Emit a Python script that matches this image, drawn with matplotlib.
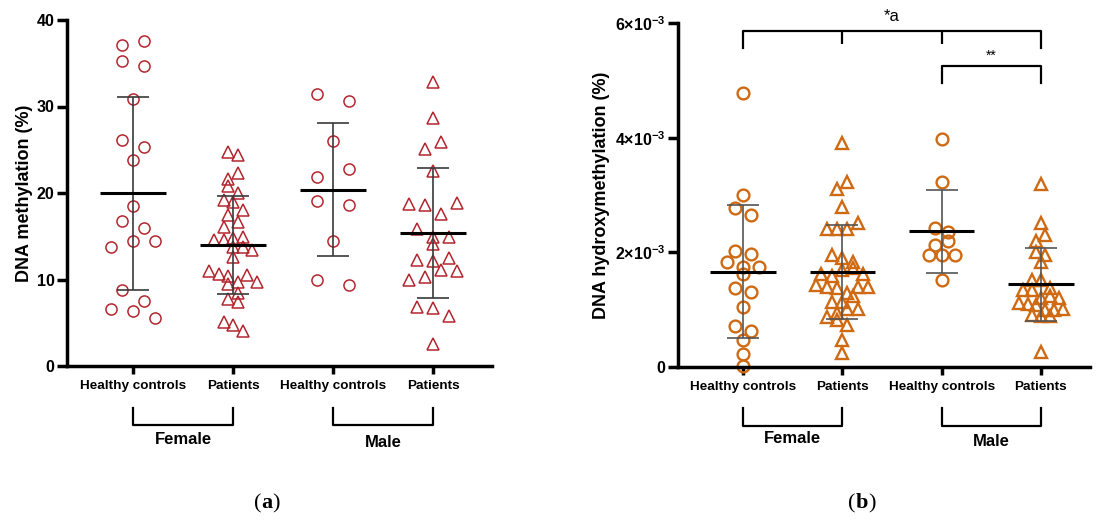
import numpy as np
import matplotlib
matplotlib.use('Agg')
import matplotlib.pyplot as plt
from matplotlib.offsetbox import TextArea, HPacker, AnnotationBbox

plt.rcParams['font.family'] = 'Liberation Sans'
plt.rcParams['font.weight'] = 'bold'
plt.rcParams['axes.labelweight'] = 'bold'
plt.rcParams['mathtext.fontset'] = 'custom'
plt.rcParams['mathtext.rm'] = 'Liberation Sans:bold'
plt.rcParams['mathtext.bf'] = 'Liberation Sans:bold'

groups = ['Healthy controls', 'Patients', 'Healthy controls', 'Patients']
sexes = ['Female', 'Male']

# (a) DNA methylation (%)
meth_female_controls = [37.1, 37.6, 35.3, 34.7, 30.9, 26.1, 25.3, 23.8, 18.5, 16.8, 15.9,
                        13.8, 14.5, 14.4, 8.8, 7.5, 6.6, 6.4, 5.5]
meth_female_patients = [24.7, 24.4, 21.6, 22.3, 20.8, 20.0, 19.2, 19.0, 18.0, 17.5, 16.7,
                        16.1, 14.6, 14.8, 14.9, 14.6, 13.7, 13.7, 13.4, 12.6, 11.0, 10.6,
                        10.4, 9.7, 10.5, 9.7, 9.5, 8.4, 7.8, 7.4, 5.1, 4.7, 4.1]
meth_male_controls = [31.4, 30.6, 26.0, 21.8, 22.8, 19.1, 18.6, 14.4, 9.9, 9.4]
meth_male_patients = [32.8, 28.7, 25.1, 25.9, 22.6, 18.7, 18.6, 17.6, 18.9, 15.8, 14.9,
                      14.1, 14.9, 12.2, 12.1, 12.5, 9.9, 10.3, 11.1, 11.0, 6.8, 6.7, 5.8, 2.5]

# (b) DNA hydroxymethylation (%), in units of 10^-3
hmeth_female_controls = [4.78, 3.00, 2.77, 2.65, 2.02, 1.97, 1.84, 1.75, 1.63, 1.74, 1.37,
                         1.30, 1.05, 0.72, 0.63, 0.47, 0.23, 0.02]
hmeth_female_patients = [3.90, 3.10, 3.23, 2.79, 2.41, 2.41, 2.41, 2.51, 1.95, 1.90, 1.84,
                         1.63, 1.58, 1.69, 1.72, 1.63, 1.43, 1.40, 1.37, 1.29, 1.40, 1.40,
                         1.14, 1.14, 1.24, 0.88, 0.82, 0.73, 0.94, 1.02, 1.02, 0.47, 0.25]
hmeth_male_controls = [3.97, 3.23, 2.42, 2.36, 2.13, 2.20, 1.95, 1.95, 1.95, 1.51]
hmeth_male_patients = [3.20, 2.52, 2.20, 2.30, 2.01, 1.84, 1.95, 1.52, 1.51, 1.34, 1.37,
                       1.34, 1.20, 1.23, 1.20, 1.11, 1.10, 1.08, 0.99, 0.91, 0.89, 0.99,
                       0.89, 1.02, 0.27]

red = '#B3262E'
orange = '#CF6A13'


def swarm(values, step, gap):
    # points close in height go on one row, centred on the group
    v = np.asarray(values, float)
    order = np.argsort(-v, kind='stable')
    rows, row = [], [order[0]]
    for idx in order[1:]:
        if v[row[0]] - v[idx] < gap:
            row.append(idx)
        else:
            rows.append(row)
            row = [idx]
    rows.append(row)
    offsets = np.zeros(len(v))
    for r in rows:
        r = sorted(r)
        for k, idx in enumerate(r):
            offsets[idx] = (k - (len(r) - 1) / 2) * step
    return offsets


def draw_groups(ax, data, steps, gap, color, ms, mew, bar_color):
    for i, (vals, step) in enumerate(zip(data, steps)):
        vals = np.asarray(vals, float)
        mk = 'o' if i % 2 == 0 else '^'
        ax.plot(i + swarm(vals, step, gap), vals, ls='none', marker=mk, mfc='none',
                mec=color, ms=ms, mew=mew, clip_on=False, zorder=2)
        m, sd = vals.mean(), vals.std(ddof=1)
        ax.vlines(i, m - sd, m + sd, color=bar_color, lw=1.2, zorder=3)
        ax.hlines([m - sd, m + sd], i - 0.16, i + 0.16, color=bar_color, lw=1.2, zorder=3)
        ax.hlines(m, i - 0.33, i + 0.33, color='black', lw=2.2, zorder=4)


def style_axes(ax):
    ax.spines[['top', 'right']].set_visible(False)
    ax.spines[['left', 'bottom']].set_linewidth(2.5)
    ax.set_xticks(range(4))
    ax.set_xticklabels(groups, fontsize=9.7)
    ax.tick_params(axis='x', length=6, width=2.5, pad=4)
    ax.tick_params(axis='y', length=7, width=2.5, labelsize=11.5, pad=2)


def group_brackets(ax, y_top, y_bot, y_text):
    tr = ax.get_xaxis_transform()
    for k, sex in enumerate(sexes):
        x0, x1 = 2 * k, 2 * k + 1
        ax.plot([x0, x0, x1, x1], [y_top, y_bot, y_bot, y_top], transform=tr,
                color='black', lw=1.6, clip_on=False)
        ax.text((x0 + x1) / 2, y_text[k], sex, transform=tr, ha='center', va='center',
                fontsize=12)


def panel_label(fig, letter, xy):
    serif = dict(family='Liberation Serif', size=16)
    parts = [TextArea('(', textprops=dict(serif, weight='normal')),
             TextArea(letter, textprops=dict(serif, weight='bold')),
             TextArea(')', textprops=dict(serif, weight='normal'))]
    box = HPacker(children=parts, pad=0, sep=0, align='baseline')
    fig.add_artist(AnnotationBbox(box, xy, xycoords='figure fraction', frameon=False,
                                  box_alignment=(0.5, 0.5)))


fig = plt.figure(figsize=(11.05, 5.23), dpi=100)

# panel (a)
ax_a = fig.add_axes([67 / 1105, 1 - 366 / 523, 425 / 1105, 346 / 523])
draw_groups(ax_a, [meth_female_controls, meth_female_patients,
                   meth_male_controls, meth_male_patients],
            steps=[0.22, 0.095, 0.32, 0.16], gap=1.35, color=red, ms=8, mew=1.1,
            bar_color='#3a3a3a')
ax_a.set_xlim(-0.66, 3.59)
ax_a.set_ylim(0, 40)
ax_a.set_yticks([0, 10, 20, 30, 40])
style_axes(ax_a)
ax_a.set_ylabel('DNA methylation (%)', fontsize=13)
ax_a.yaxis.set_label_coords(-0.08, 0.5)
group_brackets(ax_a, -0.121, -0.171, [-0.211, -0.220])

# panel (b)
ax_b = fig.add_axes([678 / 1105, 1 - 367 / 523, 412 / 1105, 344 / 523])
hmeth = [np.array(g) * 1e-3 for g in (hmeth_female_controls, hmeth_female_patients,
                                      hmeth_male_controls, hmeth_male_patients)]
draw_groups(ax_b, hmeth, steps=[0.16, 0.105, 0.13, 0.09], gap=0.16e-3, color=orange,
            ms=8.5, mew=1.7, bar_color='#555555')
ax_b.set_xlim(-0.654, 3.494)
ax_b.set_ylim(0, 6e-3)
ax_b.set_yticks([0, 2e-3, 4e-3, 6e-3])
ax_b.set_yticklabels(['0', r'$2{\times}10^{-3}$', r'$4{\times}10^{-3}$', r'$6{\times}10^{-3}$'])
style_axes(ax_b)
ax_b.set_ylabel('DNA hydroxymethylation (%)', fontsize=13)
ax_b.yaxis.set_label_coords(-0.165, 0.5)
group_brackets(ax_b, -0.119, -0.171, [-0.209, -0.218])

# significance brackets
ax_b.plot([0, 0, 3, 3], [5.56e-3, 5.86e-3, 5.86e-3, 5.56e-3], color='black', lw=1.6,
          clip_on=False)
ax_b.vlines([1, 2], 5.63e-3, 5.86e-3, color='black', lw=1.6)
ax_b.text(1.5, 6.12e-3, '*a', ha='center', va='center', fontsize=12, weight='normal')
ax_b.plot([2, 2, 3, 3], [4.95e-3, 5.25e-3, 5.25e-3, 4.95e-3], color='black', lw=1.6,
          clip_on=False)
ax_b.text(2.5, 5.3e-3, '**', ha='center', va='bottom', fontsize=10, weight='normal')

panel_label(fig, 'a', (267 / 1105, 1 - 503 / 523))
panel_label(fig, 'b', (862 / 1105, 1 - 503 / 523))

fig.savefig('out.png', dpi=100)
